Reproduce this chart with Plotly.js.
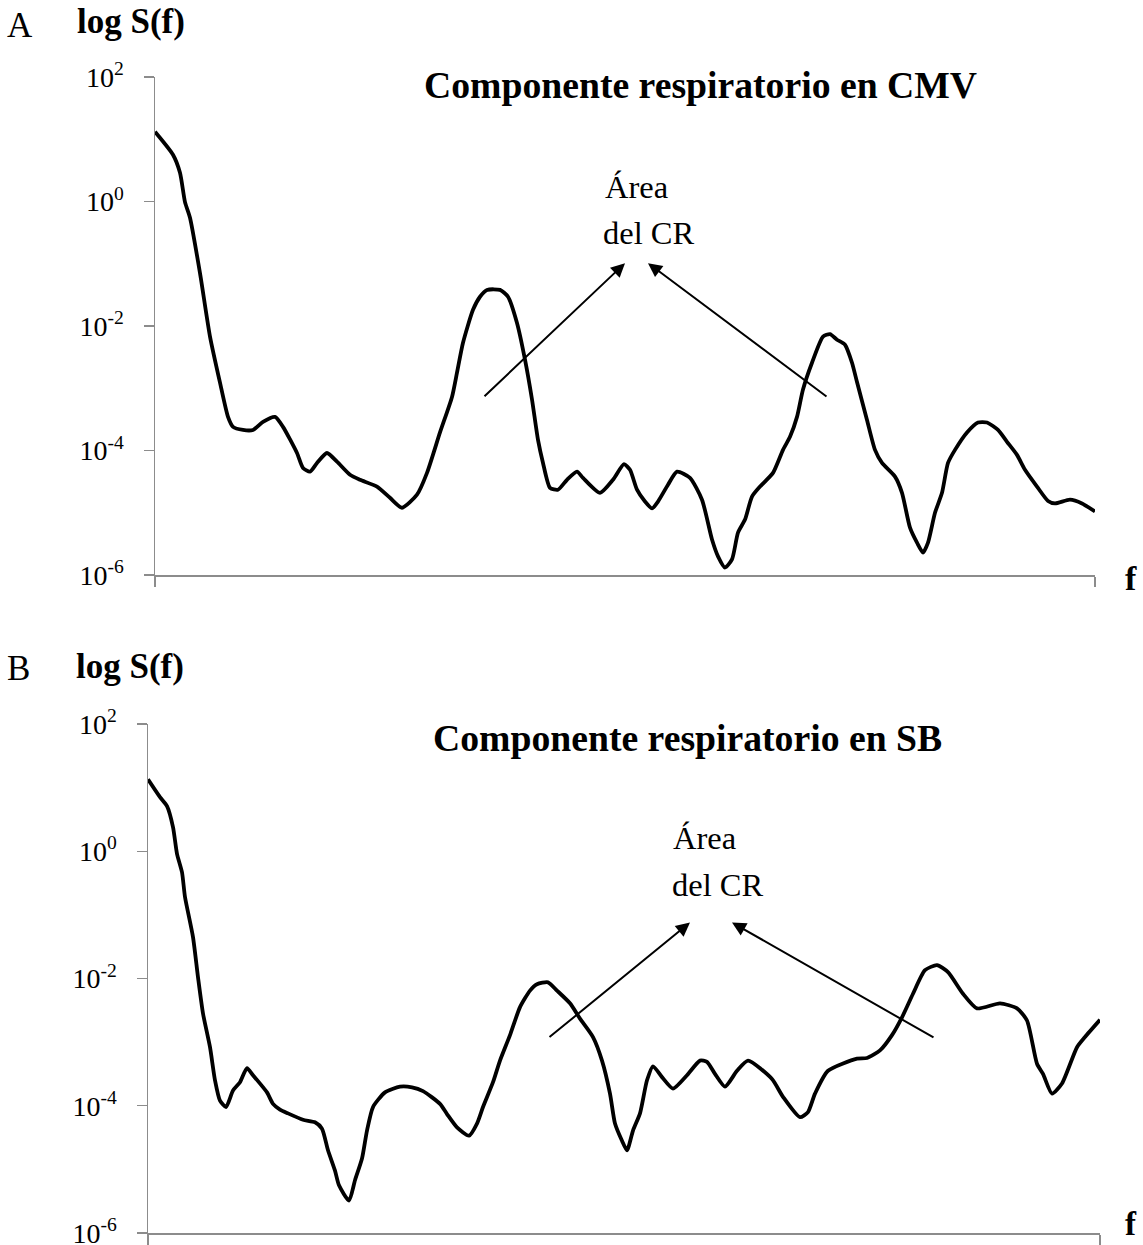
<!DOCTYPE html>
<html>
<head>
<meta charset="utf-8">
<script src="https://cdn.plot.ly/plotly-3.0.1.min.js"></script>
<style>
  html, body { margin: 0; padding: 0; background: #fff; }
  #chart { width: 1143px; height: 1245px; }
</style>
</head>
<body>
<div id="chart"></div>
<script>
// Respiratory component spectra: log10 of S(f) against frequency (arbitrary units)
const freqCMV = [0, 1.8, 2.5, 3.0, 3.5, 4.5, 5.5, 6.5, 7.3, 7.8, 8.8, 9.8, 10.8, 12.0, 12.8, 14.2, 14.8, 15.5, 16.2, 17.2,
  18.2, 19.5, 20.5, 22.2, 23.5, 24.7, 26.2, 27.2, 28.5, 29.7, 30.2, 30.8, 31.8, 32.5, 33.2, 34.5, 35.3, 36.2, 37.0, 37.7,
  38.3, 38.8, 39.5, 40.3, 41.2, 42.2, 42.8, 44.5, 45.8, 46.9, 47.5, 48.2, 49.0, 49.7, 50.3, 51.3, 52.2, 53.5, 54.7, 55.7,
  56.3, 57.0, 57.7, 58.3, 59.0, 59.7, 60.5, 61.8, 62.8, 63.5, 64.2, 64.8, 65.7, 66.8, 67.5, 68.2, 69.0, 69.7, 70.2, 71.2,
  72.0, 72.7, 74.0, 74.7, 75.5, 76.2, 76.8, 77.3, 78.0, 78.7, 79.3, 80.0, 81.2, 82.3, 83.2, 84.3, 85.2, 86.2, 87.0, 88.2,
  89.3, 90.0, 91.5, 92.7, 94.0];
const logSCMV = [1.12, 0.75, 0.46, -0.01, -0.26, -1.15, -2.17, -2.91, -3.46, -3.62, -3.67, -3.67, -3.54, -3.46, -3.62, -4.04, -4.28, -4.34, -4.20, -4.04,
  -4.18, -4.39, -4.47, -4.58, -4.76, -4.92, -4.71, -4.36, -3.71, -3.14, -2.75, -2.27, -1.74, -1.53, -1.42, -1.42, -1.53, -1.95, -2.54, -3.18,
  -3.83, -4.20, -4.60, -4.63, -4.47, -4.34, -4.44, -4.68, -4.47, -4.22, -4.31, -4.63, -4.82, -4.93, -4.82, -4.55, -4.34, -4.44, -4.79, -5.43,
  -5.70, -5.88, -5.75, -5.32, -5.11, -4.74, -4.58, -4.36, -3.99, -3.78, -3.46, -3.02, -2.59, -2.17, -2.13, -2.22, -2.30, -2.59, -2.90, -3.51,
  -3.99, -4.20, -4.42, -4.68, -5.24, -5.48, -5.64, -5.48, -5.00, -4.68, -4.20, -3.99, -3.71, -3.55, -3.55, -3.67, -3.86, -4.07, -4.31, -4.58,
  -4.81, -4.85, -4.79, -4.85, -4.98];

const freqSB = [0, 1.2, 1.9, 2.5, 2.9, 3.4, 3.7, 4.5, 5.0, 5.5, 6.2, 6.7, 7.2, 7.8, 8.5, 9.2, 9.9, 10.5, 11.9, 12.5,
  13.2, 14.0, 15.5, 16.7, 17.4, 18.0, 18.7, 19.1, 20.1, 20.7, 21.4, 21.9, 22.5, 23.7, 25.2, 26.4, 27.5, 29.2, 29.9, 30.9,
  32.1, 32.9, 33.5, 34.5, 35.2, 36.2, 37.2, 38.2, 38.9, 40.0, 40.9, 42.2, 43.2, 44.5, 45.4, 46.2, 46.7, 47.4, 47.9, 48.5,
  49.2, 49.9, 50.5, 51.4, 52.5, 53.9, 55.2, 55.9, 56.7, 57.7, 58.9, 60.0, 62.4, 63.5, 65.2, 66.0, 66.7, 68.0, 70.9, 71.9,
  73.2, 74.4, 75.4, 76.5, 77.7, 78.9, 80.0, 81.5, 82.9, 85.2, 86.9, 87.9, 88.9, 89.5, 90.4, 91.4, 92.9, 93.7, 95.2];
const logSSB = [1.13, 0.85, 0.71, 0.38, -0.04, -0.33, -0.72, -1.35, -1.98, -2.55, -3.08, -3.60, -3.92, -4.02, -3.76, -3.63, -3.41, -3.52, -3.79, -3.97,
  -4.06, -4.12, -4.22, -4.26, -4.36, -4.70, -5.02, -5.25, -5.49, -5.17, -4.83, -4.39, -4.02, -3.79, -3.70, -3.71, -3.77, -3.97, -4.13, -4.34,
  -4.47, -4.28, -4.02, -3.63, -3.29, -2.89, -2.45, -2.19, -2.09, -2.06, -2.19, -2.39, -2.63, -2.92, -3.29, -3.81, -4.28, -4.55, -4.70, -4.39,
  -4.12, -3.60, -3.38, -3.55, -3.73, -3.52, -3.29, -3.31, -3.50, -3.70, -3.45, -3.29, -3.58, -3.86, -4.18, -4.10, -3.81, -3.45, -3.26, -3.25,
  -3.13, -2.89, -2.61, -2.24, -1.87, -1.79, -1.90, -2.24, -2.47, -2.39, -2.47, -2.66, -3.34, -3.50, -3.81, -3.65, -3.08, -2.92, -2.65];

const decadeTicks = [1e-6, 1e-4, 1e-2, 1, 100];
const decadeLabels = ['10<sup>-6</sup>', '10<sup>-4</sup>', '10<sup>-2</sup>', '10<sup>0</sup>', '10<sup>2</sup>'];

const titleCMV = 'Componente respiratorio en CMV';
const titleSB = 'Componente respiratorio en SB';

const W = 1143, H = 1245;
const px = v => v / W;          // horizontal pixel -> paper
const py = v => 1 - v / H;      // vertical pixel -> paper

const serif = 'Liberation Serif, Times New Roman, serif';
const axisGrey = '#8c8c8c';

const toS = arr => arr.map(v => Math.pow(10, v));

const traces = [
  { x: freqCMV, y: toS(logSCMV), xaxis: 'x', yaxis: 'y', mode: 'lines',
    line: { color: '#000', width: 3.8, shape: 'spline', smoothing: 0.6 }, hoverinfo: 'skip' },
  { x: freqSB, y: toS(logSSB), xaxis: 'x2', yaxis: 'y2', mode: 'lines',
    line: { color: '#000', width: 3.8, shape: 'spline', smoothing: 0.6 }, hoverinfo: 'skip' }
];

function yAxis(domain, anchor) {
  return {
    type: 'log', range: [-6, 2], domain: domain, anchor: anchor,
    tickvals: decadeTicks, ticktext: decadeLabels,
    ticks: 'outside', ticklen: 10, tickwidth: 1.2, tickcolor: axisGrey,
    showline: true, linecolor: axisGrey, linewidth: 1.5,
    showgrid: false, zeroline: false, ticklabelstandoff: 14,
    ticklabeloverflow: 'allow',
    tickfont: { family: serif, size: 28, color: '#000' }
  };
}
function xAxis(domain, anchor, maxF) {
  return {
    range: [0, maxF], domain: domain, anchor: anchor,
    tickvals: [0, maxF], showticklabels: false,
    ticks: 'outside', ticklen: 10, tickwidth: 1.2, tickcolor: axisGrey,
    showline: true, linecolor: axisGrey, linewidth: 1.5,
    showgrid: false, zeroline: false
  };
}

function label(text, x, y, size, bold, xanchor) {
  return {
    xref: 'paper', yref: 'paper', x: px(x), y: py(y), xanchor: xanchor || 'left', yanchor: 'middle',
    text: bold ? '<b>' + text + '</b>' : text, showarrow: false, borderpad: 0,
    font: { family: serif, size: size, color: '#000' }
  };
}
function arrow(xr, yr, tailF, tailLog, tipF, tipLog) {
  return {
    xref: xr, yref: yr, axref: xr, ayref: yr,
    x: tipF, y: tipLog, ax: tailF, ay: tailLog, text: '',
    showarrow: true, arrowhead: 2, arrowsize: 1.4, arrowwidth: 2, arrowcolor: '#000'
  };
}

const annotations = [
  // Panel A
  label('A', 6, 25, 35, false),
  label('log S(f)', 76, 22, 35, true),
  label(titleCMV, 700, 85, 37.7, true, 'center'),
  label('Área', 604, 187, 32.5, false),
  label('del CR', 602, 233, 32.5, false),
  label('f', 1131, 578, 34, true, 'center'),
  arrow('x', 'y', 32.8, -3.15, 47.0, -0.99),
  arrow('x', 'y', 67.3, -3.15, 49.3, -0.99),
  // Panel B
  label('B', 6, 668, 35, false),
  label('log S(f)', 75, 666, 35, true),
  label(titleSB, 687, 738, 37.7, true, 'center'),
  label('Área', 672, 838, 32.5, false),
  label('del CR', 671, 885, 32.5, false),
  label('f', 1131, 1224, 33, true, 'center'),
  arrow('x2', 'y2', 40.0, -2.94, 54.2, -1.12),
  arrow('x2', 'y2', 78.7, -2.94, 58.4, -1.12)
];

const layout = {
  width: W, height: H,
  margin: { l: 0, r: 0, t: 0, b: 0 },
  paper_bgcolor: '#fff', plot_bgcolor: '#fff',
  showlegend: false,
  xaxis: xAxis([px(155), px(1095)], 'y', 94),
  yaxis: yAxis([py(575), py(77)], 'x'),
  xaxis2: xAxis([px(148), px(1100)], 'y2', 95.2),
  yaxis2: yAxis([py(1233), py(724)], 'x2'),
  annotations: annotations
};

Plotly.newPlot('chart', traces, layout, { staticPlot: true, displayModeBar: false });
</script>
</body>
</html>
